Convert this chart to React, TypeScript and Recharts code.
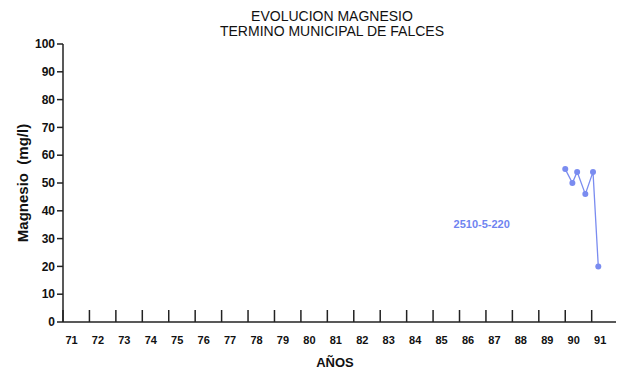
import { LineChart, Line, XAxis, YAxis, ReferenceDot } from "recharts";

const years = [90.0, 90.27, 90.45, 90.76, 91.05, 91.25];
const magnesio = [55, 50, 54, 46, 54, 20];
const xTicks = [71, 72, 73, 74, 75, 76, 77, 78, 79, 80, 81, 82, 83, 84, 85, 86, 87, 88, 89, 90, 91];
const yTicks = [0, 10, 20, 30, 40, 50, 60, 70, 80, 90, 100];
const station = "2510-5-220";

const data = years.map((y, i) => ({ year: y, mg: magnesio[i] }));

const font = "'Liberation Sans', Arial, sans-serif";
const blue = "#7a8cf0";

function XTick(props: any) {
  const { x, y, payload } = props;
  return (
    <g>
      <line x1={x} y1={y - 12} x2={x} y2={y} stroke="#222" strokeWidth={1.5} />
      <text x={x + 8.5} y={y + 22} textAnchor="middle" fontSize={11} fontWeight="bold" fill="#111" fontFamily={font}>
        {payload.value}
      </text>
    </g>
  );
}

export default function App() {
  return (
    <div style={{ position: "absolute", left: 0, top: 0, width: 618, height: 371, background: "#fff", fontFamily: font }}>
      <div style={{ position: "absolute", left: 0, width: 664, top: 9, textAlign: "center", fontSize: 14, lineHeight: "15px", color: "#111" }}>
        EVOLUCION MAGNESIO
        <br />
        TERMINO MUNICIPAL DE FALCES
      </div>
      <div
        style={{
          position: "absolute",
          left: 22,
          top: 183,
          transform: "translate(-50%, -50%) rotate(-90deg)",
          whiteSpace: "nowrap",
          fontSize: 15,
          fontWeight: "bold",
          color: "#111",
        }}
      >
        Magnesio&nbsp;&nbsp;(mg/l)
      </div>
      <div style={{ position: "absolute", left: 335, top: 362, transform: "translate(-50%, -50%)", fontSize: 13, fontWeight: "bold", color: "#111" }}>
        AÑOS
      </div>
      <LineChart width={618} height={371} data={data} margin={{ top: 44, right: 2, bottom: 0, left: 0 }}>
        <XAxis
          dataKey="year"
          type="number"
          domain={[71, 91.92]}
          ticks={xTicks}
          allowDataOverflow
          height={49}
          tickSize={0}
          tickMargin={0}
          tickLine={false}
          tick={<XTick />}
          stroke="#222"
          strokeWidth={1.5}
          interval={0}
        />
        <XAxis xAxisId="top" orientation="top" type="number" domain={[71, 91.92]} height={0} tick={false} tickLine={false} stroke="#222" strokeWidth={1.5} />
        <YAxis
          type="number"
          domain={[0, 100]}
          ticks={yTicks}
          width={63}
          tickSize={6}
          interval={0}
          stroke="#222"
          strokeWidth={1.5}
          tick={{ fontSize: 12, fontWeight: "bold", fill: "#111", fontFamily: font }}
        />
        <YAxis yAxisId="right" orientation="right" domain={[0, 100]} width={0} tick={false} tickLine={false} stroke="#222" strokeWidth={1.5} />
        <Line
          dataKey="mg"
          stroke={blue}
          strokeWidth={1.3}
          isAnimationActive={false}
          dot={{ r: 3, fill: blue, stroke: "none" }}
        />
        <ReferenceDot
          x={86.84}
          y={35.2}
          r={0}
          stroke="none"
          label={{ value: station, position: "center", fill: "#6f84f0", fontSize: 11, fontWeight: "bold", fontFamily: font }}
        />
      </LineChart>
    </div>
  );
}
